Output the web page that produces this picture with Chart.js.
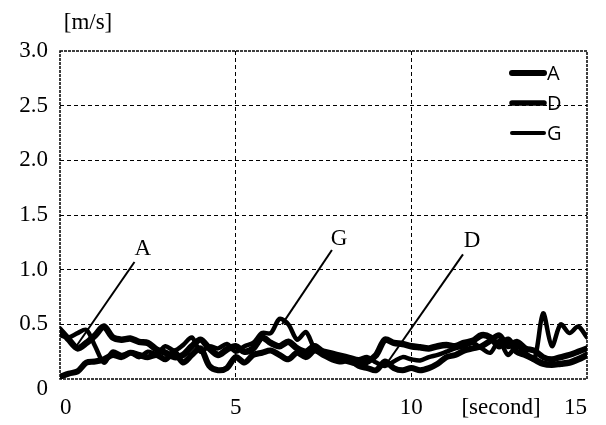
<!DOCTYPE html>
<html>
<head>
<meta charset="utf-8">
<script src="https://cdn.jsdelivr.net/npm/chart.js@4.4.1/dist/chart.umd.min.js"></script>
<style>
  html, body { margin: 0; padding: 0; background: #fff; }
</style>
</head>
<body>
<canvas id="speedChart" width="606" height="425"></canvas>
<script>
// wind speed samples, one every 0.25 s from 0 to 15 s
const SAMPLE_STEP = 0.25;

const seriesA = [
  0.45, 0.36, 0.28, 0.33, 0.40, 0.48, 0.38, 0.36, 0.37, 0.34, 0.33, 0.27,
  0.24, 0.20, 0.22, 0.30, 0.36, 0.28, 0.22, 0.27, 0.30, 0.25, 0.28, 0.38,
  0.33, 0.30, 0.34, 0.28, 0.25, 0.30, 0.24, 0.20, 0.18, 0.16, 0.14, 0.16,
  0.22, 0.36, 0.33, 0.32, 0.30, 0.29, 0.28, 0.30, 0.31, 0.30, 0.33, 0.35,
  0.40, 0.38, 0.30, 0.36, 0.25, 0.22, 0.18, 0.14, 0.13, 0.14, 0.15, 0.18,
  0.22
];
const seriesD = [
  0.02, 0.05, 0.07, 0.15, 0.16, 0.18, 0.22, 0.20, 0.24, 0.22, 0.20, 0.22,
  0.18, 0.25, 0.15, 0.22, 0.28, 0.12, 0.08, 0.10, 0.20, 0.15, 0.22, 0.24,
  0.26, 0.22, 0.18, 0.24, 0.20, 0.26, 0.22, 0.18, 0.16, 0.18, 0.12, 0.10,
  0.08, 0.16, 0.10, 0.08, 0.10, 0.08, 0.10, 0.14, 0.20, 0.22, 0.26, 0.28,
  0.30, 0.35, 0.40, 0.30, 0.34, 0.28, 0.26, 0.20, 0.18, 0.20, 0.22, 0.25,
  0.28
];
const seriesG = [
  0.40, 0.38, 0.42, 0.45, 0.30, 0.15, 0.25, 0.22, 0.24, 0.20, 0.25, 0.23,
  0.30, 0.26, 0.31, 0.38, 0.25, 0.30, 0.28, 0.32, 0.25, 0.30, 0.33, 0.42,
  0.42, 0.55, 0.50, 0.36, 0.43, 0.28, 0.26, 0.24, 0.22, 0.20, 0.18, 0.20,
  0.15, 0.12, 0.16, 0.20, 0.18, 0.17, 0.20, 0.22, 0.25, 0.28, 0.30, 0.33,
  0.28, 0.24, 0.35, 0.22, 0.30, 0.24, 0.18, 0.60, 0.30, 0.50, 0.42, 0.48,
  0.38
];

const seriesNames = ["A", "D", "G"];
const seriesWidths = [6.5, 6, 4.5];
const xTicks = [0, 5, 10, 15];
const yTicks = [0, 0.5, 1, 1.5, 2, 2.5, 3];

// labelled pointers into the traces (data units)
const callouts = [
  { text: "A", at: [2.36, 1.19], from: [2.12, 1.07], to: [0.40, 0.27] },
  { text: "G", at: [7.94, 1.28], from: [7.74, 1.18], to: [6.32, 0.50] },
  { text: "D", at: [11.73, 1.26], from: [11.47, 1.14], to: [9.34, 0.16] },
];

const SERIF = '"Times New Roman", "Liberation Serif", serif';
const SANS = '"Open Sans", "Liberation Sans", sans-serif';

const toPoints = (values) =>
  values.map((v, i) => ({ x: i * SAMPLE_STEP, y: v }));

const edgeColor = (lo, hi) => (ctx) =>
  ctx.tick && (ctx.tick.value === lo || ctx.tick.value === hi)
    ? "rgba(0,0,0,0)"
    : "#000";

// dashed frame around the plot, legend, unit texts and the pointer lines
const decorations = {
  id: "decorations",
  beforeDatasetsDraw(chart) {
    const { ctx, chartArea: a } = chart;
    ctx.save();
    ctx.strokeStyle = "#000";
    ctx.lineWidth = 1.5;
    ctx.setLineDash([3, 1]);
    ctx.strokeRect(a.left, a.top, a.right - a.left, a.bottom - a.top);
    ctx.restore();
  },
  afterDatasetsDraw(chart) {
    const { ctx, chartArea: a, scales } = chart;
    const px = (p) => [scales.x.getPixelForValue(p[0]), scales.y.getPixelForValue(p[1])];

    ctx.save();
    ctx.fillStyle = "#000";
    ctx.strokeStyle = "#000";

    // pointers
    ctx.lineWidth = 2;
    ctx.font = "23px " + SERIF;
    ctx.textAlign = "center";
    ctx.textBaseline = "middle";
    callouts.forEach((c) => {
      const [x0, y0] = px(c.from);
      const [x1, y1] = px(c.to);
      ctx.beginPath();
      ctx.moveTo(x0, y0);
      ctx.lineTo(x1, y1);
      ctx.stroke();
      const [tx, ty] = px(c.at);
      ctx.fillText(c.text, tx, ty);
    });

    // units
    ctx.fillText("[m/s]", 88, 23);
    ctx.fillText("[second]", 501, a.bottom + 29);

    // legend
    ctx.font = "20px " + SANS;
    ctx.textAlign = "left";
    ctx.lineCap = "round";
    chart.data.datasets.forEach((ds, i) => {
      const y = a.top + 22 + i * 30;
      ctx.lineWidth = ds.borderWidth - 0.5;
      ctx.beginPath();
      ctx.moveTo(a.right - 75, y);
      ctx.lineTo(a.right - 43, y);
      ctx.stroke();
      ctx.fillText(ds.label, a.right - 40, y + 1);
    });
    ctx.restore();
  },
};

new Chart(document.getElementById("speedChart"), {
  type: "line",
  data: {
    datasets: [seriesA, seriesD, seriesG].map((values, i) => ({
      label: seriesNames[i],
      data: toPoints(values),
      borderColor: "#000",
      backgroundColor: "#000",
      borderWidth: seriesWidths[i],
      fill: false,
    })),
  },
  options: {
    responsive: false,
    animation: false,
    layout: { padding: { top: 51, right: 19, left: 0, bottom: 0 } },
    plugins: {
      legend: { display: false },
      tooltip: { enabled: false },
    },
    elements: {
      point: { radius: 0 },
      line: { tension: 0.3, borderCapStyle: "round", borderJoinStyle: "round" },
    },
    scales: {
      x: {
        type: "linear",
        min: 0,
        max: 15,
        afterFit: (s) => { s.height = 46; },
        afterBuildTicks: (s) => { s.ticks = xTicks.map((v) => ({ value: v })); },
        ticks: {
          align: "inner",
          padding: 15,
          maxRotation: 0,
          color: "#000",
          font: { family: SERIF, size: 23 },
        },
        grid: { color: edgeColor(0, 15), lineWidth: 1, drawTicks: false },
        border: { display: false, dash: [4, 3] },
      },
      y: {
        min: 0,
        max: 3,
        afterFit: (s) => { s.width = 60; },
        afterBuildTicks: (s) => { s.ticks = yTicks.map((v) => ({ value: v })); },
        ticks: {
          padding: 12,
          color: "#000",
          font: { family: SERIF, size: 23, lineHeight: 0.9 },
          // the zero label sits a little below its line
          callback: (v) => (v === 0 ? ["", "0"] : v.toFixed(1)),
        },
        grid: { color: edgeColor(0, 3), lineWidth: 1, drawTicks: false },
        border: { display: false, dash: [4, 3] },
      },
    },
  },
  plugins: [decorations],
});
</script>
</body>
</html>
